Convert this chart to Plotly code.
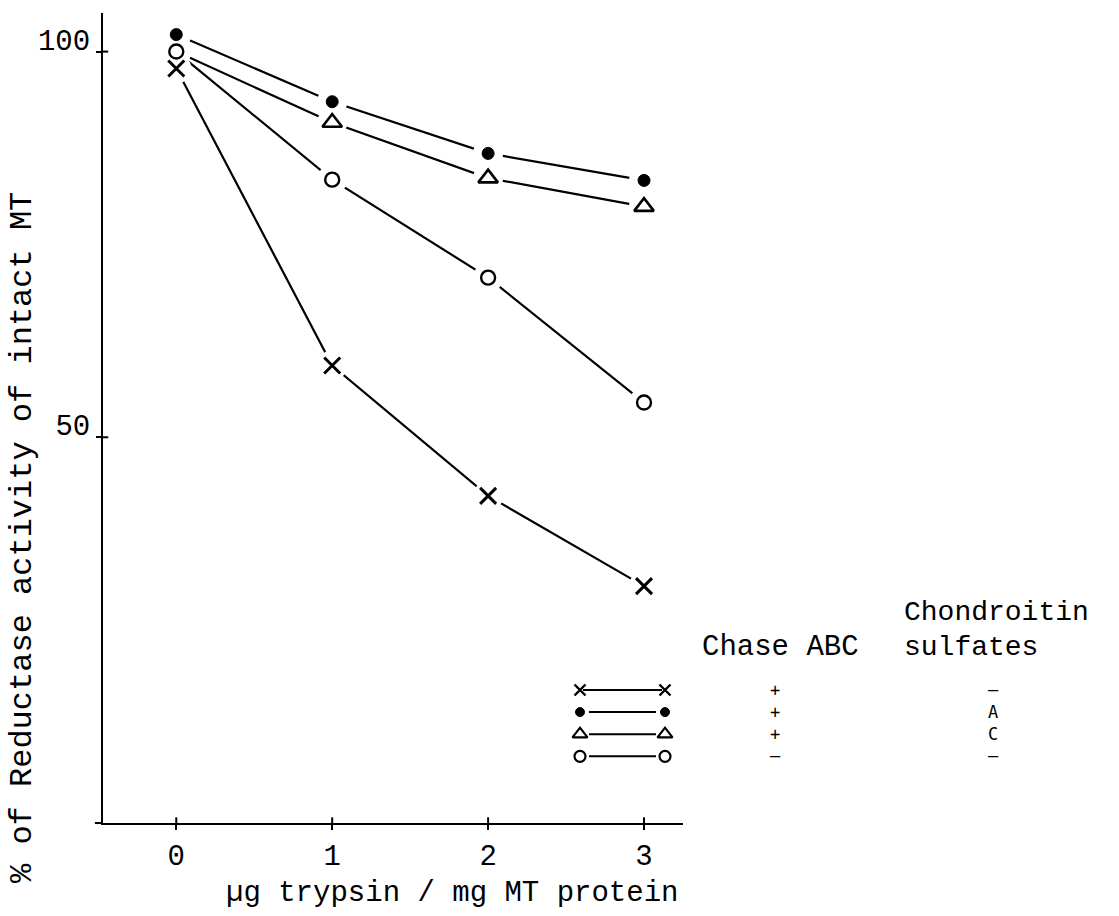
import plotly.graph_objects as go

# ---------------- data ----------------
trypsin = [0, 1, 2, 3]                      # µg trypsin / mg MT protein
chase_cs_a = [102.2, 93.5, 86.8, 83.3]      # ChABC + chondroitin sulfate A  (filled circle)
chase_cs_c = [100.0, 90.8, 83.6, 79.9]      # ChABC + chondroitin sulfate C  (open triangle)
no_chase = [100.0, 83.4, 70.7, 54.5]        # no ChABC                      (open circle)
chase_only = [97.8, 59.3, 42.4, 30.7]       # ChABC, no chondroitin sulfate (x)

x_ticks = [0, 1, 2, 3]
y_ticks = [50, 100]
y_ticklabels = ["50", "100"]

legend_rows = ["x", "filled", "triangle", "circle"]
legend_chase = ["+", "+", "+", "\u2013"]
legend_cs = ["\u2013", "A", "C", "\u2013"]

# ---------------- layout constants ----------------
W, H = 1119, 916
FONT = "Liberation Mono"
L, R, T, B = 103, 683, 13, 823

series = [
    (chase_only, dict(symbol="x-thin-open", size=16, line=dict(color="black", width=3)), [1, 1, 1, 1]),
    (no_chase, dict(symbol="circle-open", size=14, line=dict(color="black", width=2.4)), [1, 1, 1, 1]),
    (chase_cs_c, dict(symbol="triangle-up-open", size=17, line=dict(color="black", width=2.6)), [0, 1, 1, 1]),
    (chase_cs_a, dict(symbol="circle", size=12, color="black", line=dict(color="black", width=1)), [1, 1, 1, 1]),
]

fig = go.Figure()

# connecting lines
for ys, _, _ in series:
    fig.add_trace(go.Scatter(x=trypsin, y=ys, mode="lines",
                             line=dict(color="black", width=2.2),
                             hoverinfo="skip", showlegend=False))
# white masks -> gaps between lines and symbols
for ys, _, _ in series:
    fig.add_trace(go.Scatter(x=trypsin, y=ys, mode="markers",
                             marker=dict(symbol="circle", size=30, color="white", line=dict(width=0)),
                             hoverinfo="skip", showlegend=False))
# symbols
for ys, mk, op in series:
    m = dict(mk)
    m.setdefault("color", "black")
    m["opacity"] = op
    fig.add_trace(go.Scatter(x=trypsin, y=ys, mode="markers", marker=m,
                             showlegend=False))

# ---------------- legend (overlay axes in pixel units) ----------------
LEG_FONT = 17
leg_dy = 1.3 * LEG_FONT          # plotly's multi-line spacing
leg_y0 = 690
leg_xl, leg_xr = 580, 665
leg_syms = {
    "x": dict(symbol="x-thin-open", size=11, color="black", line=dict(color="black", width=2.4)),
    "filled": dict(symbol="circle", size=9, color="black", line=dict(color="black", width=1)),
    "triangle": dict(symbol="triangle-up-open", size=13, color="black", line=dict(color="black", width=2.2)),
    "circle": dict(symbol="circle-open", size=11, color="black", line=dict(color="black", width=2.2)),
}
for i, key in enumerate(legend_rows):
    yy = leg_y0 + i * leg_dy
    gap = 3 if key == "x" else 9
    fig.add_trace(go.Scatter(x=[leg_xl + gap, leg_xr - gap], y=[yy, yy], mode="lines",
                             line=dict(color="black", width=2), xaxis="x2", yaxis="y2",
                             hoverinfo="skip", showlegend=False))
    fig.add_trace(go.Scatter(x=[leg_xl, leg_xr], y=[yy, yy], mode="markers",
                             marker=leg_syms[key], xaxis="x2", yaxis="y2",
                             hoverinfo="skip", showlegend=False))

leg_mid = leg_y0 + 1.5 * leg_dy
col_font = dict(family="DejaVu Sans Mono", size=LEG_FONT, color="black")
annotations = [
    dict(x=775, y=leg_mid, xref="x2", yref="y2", text="<br>".join(legend_chase),
         showarrow=False, align="center", font=col_font),
    dict(x=993, y=leg_mid, xref="x2", yref="y2", text="<br>".join(legend_cs),
         showarrow=False, align="center", font=col_font),
    dict(x=780, y=647, xref="x2", yref="y2", text="Chase ABC", showarrow=False,
         font=dict(family=FONT, size=29, color="black")),
    dict(x=902, y=612, xref="x2", yref="y2", text="Chondroitin", showarrow=False, xanchor="left",
         font=dict(family=FONT, size=28, color="black")),
    dict(x=902, y=647, xref="x2", yref="y2", text="sulfates", showarrow=False, xanchor="left",
         font=dict(family=FONT, size=28, color="black")),
    # axis titles
    dict(x=452, y=893, xref="x2", yref="y2", text="\u00b5g trypsin / mg MT protein", showarrow=False,
         font=dict(family=FONT, size=29, color="black")),
    dict(x=22, y=538, xref="x2", yref="y2", text="% of Reductase activity of intact MT", showarrow=False,
         textangle=-90, font=dict(family=FONT, size=32, color="black")),
]

# inner halves of the crossing ticks, and x-axis stub left of the y-axis
shapes = []
for v in x_ticks:
    shapes.append(dict(type="line", xref="x", yref="y domain", x0=v, x1=v, y0=0, y1=0.007,
                       line=dict(color="black", width=2)))
for v in y_ticks:
    shapes.append(dict(type="line", xref="x domain", yref="y", x0=0, x1=0.009, y0=v, y1=v,
                       line=dict(color="black", width=2)))
shapes.append(dict(type="line", xref="x domain", yref="y domain", x0=-0.014, x1=0, y0=0, y1=0,
                   line=dict(color="black", width=2)))

fig.update_layout(
    width=W, height=H,
    margin=dict(l=0, r=0, t=0, b=0),
    paper_bgcolor="white", plot_bgcolor="rgba(0,0,0,0)",
    showlegend=False,
    font=dict(family=FONT, color="black"),
    xaxis=dict(domain=[L / W, R / W], range=[-0.47, 3.25], tickvals=x_ticks,
               showline=True, linecolor="black", linewidth=2, ticks="outside", ticklen=5,
               tickwidth=2, tickcolor="black", showgrid=False, zeroline=False,
               tickfont=dict(family=FONT, size=29, color="black")),
    yaxis=dict(domain=[1 - B / H, 1 - T / H], range=[0, 105], tickvals=y_ticks, ticktext=y_ticklabels,
               showline=True, linecolor="black", linewidth=2, ticks="outside", ticklen=5,
               tickwidth=2, tickcolor="black", showgrid=False, zeroline=False,
               ticklabelshift=-12,
               tickfont=dict(family=FONT, size=29, color="black")),
    xaxis2=dict(domain=[0, 1], range=[0, W], visible=False, anchor="y2", fixedrange=True),
    yaxis2=dict(domain=[0, 1], range=[H, 0], visible=False, anchor="x2", fixedrange=True),
    annotations=annotations,
    shapes=shapes,
)

fig.write_html("out.html")
